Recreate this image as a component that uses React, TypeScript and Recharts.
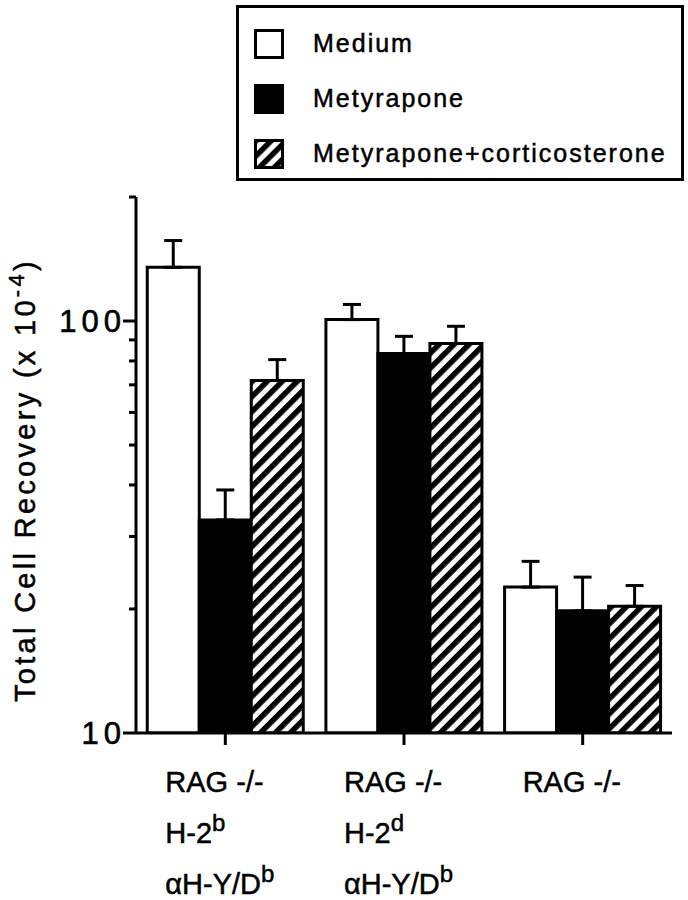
import { BarChart, Bar, XAxis, YAxis, ErrorBar } from 'recharts'

const FONT = '"Liberation Sans", Arial, Helvetica, sans-serif'

// group labels: each line is [text, superscript]
const groupLabels: [string, string][][] = [
  [['RAG -/-', ''], ['H-2', 'b'], ['\u03B1H-Y/D', 'b']],
  [['RAG -/-', ''], ['H-2', 'd'], ['\u03B1H-Y/D', 'b']],
  [['RAG -/-', '']],
]

const medium = [135, 100.8, 22.6]
const mediumErr = [21.8, 8.9, 3.5]
const metyrapone = [32.9, 83.4, 19.8]
const metyraponeErr = [6.0, 8.4, 4.1]
const metyCort = [71.7, 88.2, 20.3]
const metyCortErr = [8.9, 8.9, 2.5]

const yTicks = [10, 20, 30, 40, 50, 60, 70, 80, 90, 100, 200]
const yLabels = [10, 100]

const series = [
  { key: 'medium', name: 'Medium', fill: '#ffffff' },
  { key: 'mety', name: 'Metyrapone', fill: '#000000' },
  { key: 'cort', name: 'Metyrapone+corticosterone', fill: 'url(#hatch)' },
]

const data = groupLabels.map((_, i) => ({
  idx: i,
  medium: medium[i],
  mediumErr: [0, mediumErr[i]],
  mety: metyrapone[i],
  metyErr: [0, metyraponeErr[i]],
  cort: metyCort[i],
  cortErr: [0, metyCortErr[i]],
}))

const YTick = (props: any) => {
  const { x, y, payload } = props
  const major = yLabels.includes(payload.value)
  return (
    <g>
      <line x1={x - (major ? 13 : 7)} x2={x} y1={y} y2={y} stroke="#000" strokeWidth={3} />
      {major && (
        <text
          x={x - 10}
          y={y + 11}
          textAnchor="end"
          fontSize={31}
          letterSpacing={5}
          fontFamily={FONT}
          fill="#000"
          stroke="#000"
          strokeWidth={0.6}
        >
          {payload.value}
        </text>
      )}
    </g>
  )
}

const XTick = (props: any) => {
  const { x, y, payload } = props
  const lines = groupLabels[payload.value]
  return (
    <g>
      <line x1={x} x2={x} y1={y - 2} y2={y + 12} stroke="#000" strokeWidth={3} />
      {lines.map((ln, j) => (
        <text
          key={j}
          x={x - 60}
          y={y + 59 + j * 51}
          fontSize={29}
          fontFamily={FONT}
          fill="#000"
          stroke="#000"
          strokeWidth={0.5}
        >
          {ln[0]}
          {ln[1] && (
            <tspan dy={-12} fontSize={24}>
              {ln[1]}
            </tspan>
          )}
        </text>
      ))}
    </g>
  )
}

const LegendBox = () => (
  <div
    style={{
      position: 'absolute',
      left: 236,
      top: 5,
      width: 448,
      height: 176,
      border: '3px solid #000',
      boxSizing: 'border-box',
      fontFamily: FONT,
      fontSize: 25,
      letterSpacing: 2,
      color: '#000',
      WebkitTextStroke: '0.5px #000',
      paddingTop: 8,
    }}
  >
    {series.map((s) => (
      <div key={s.key} style={{ display: 'flex', alignItems: 'center', height: 55, paddingLeft: 15 }}>
        <svg width={30} height={30} style={{ marginRight: 29 }}>
          <defs>
            <pattern id="hatchLeg" patternUnits="userSpaceOnUse" width={10.6} height={10.6} patternTransform="rotate(45)">
              <rect x={0} y={0} width={10.6} height={10.6} fill="#fff" />
              <rect x={0} y={0} width={5.5} height={10.6} fill="#000" />
            </pattern>
          </defs>
          <rect
            x={1.5}
            y={1.5}
            width={27}
            height={27}
            fill={s.key === 'cort' ? 'url(#hatchLeg)' : s.fill}
            stroke="#000"
            strokeWidth={3}
          />
        </svg>
        <span>{s.name}</span>
      </div>
    ))}
  </div>
)

export default function App() {
  return (
    <div style={{ position: 'absolute', left: 0, top: 0, width: 688, height: 900, background: '#fff' }}>
      <BarChart
        width={688}
        height={900}
        data={data}
        margin={{ top: 197, right: 16, bottom: 137, left: 0 }}
        barCategoryGap="6.3%"
        barGap={0}
      >
        <defs>
          <pattern id="hatch" patternUnits="userSpaceOnUse" width={10.6} height={10.6} patternTransform="rotate(45)">
            <rect x={0} y={0} width={10.6} height={10.6} fill="#fff" />
            <rect x={0} y={0} width={5.5} height={10.6} fill="#000" />
          </pattern>
        </defs>
        <XAxis
          dataKey="idx"
          height={30}
          stroke="#000"
          strokeWidth={3}
          tickLine={false}
          tickSize={0}
          tickMargin={0}
          tick={<XTick />}
          interval={0}
        />
        <YAxis
          width={136}
          scale="log"
          domain={[10, 200]}
          ticks={yTicks}
          allowDataOverflow
          stroke="#000"
          strokeWidth={3}
          tickLine={false}
          tickSize={0}
          tickMargin={0}
          tick={<YTick />}
          interval={0}
          label={{
            value: 'Total Cell Recovery (x 10-4)',
            content: () => (
              <text
                x={35}
                y={480}
                transform="rotate(-90 35 480)"
                textAnchor="middle"
                fontSize={29}
                letterSpacing={3.3}
                fontFamily={FONT}
                fill="#000"
                stroke="#000"
                strokeWidth={0.5}
              >
                Total Cell Recovery (x 10
                <tspan dy={-11} fontSize={22}>
                  -4
                </tspan>
                <tspan dy={11}>)</tspan>
              </text>
            ),
          }}
        />
        {series.map((s) => (
          <Bar
            key={s.key}
            dataKey={s.key}
            name={s.name}
            fill={s.fill}
            stroke="#000"
            strokeWidth={3}
            isAnimationActive={false}
          >
            <ErrorBar
              dataKey={s.key + 'Err'}
              direction="y"
              width={9}
              stroke="#000"
              strokeWidth={3}
              isAnimationActive={false}
            />
          </Bar>
        ))}
      </BarChart>
      <LegendBox />
    </div>
  )
}
